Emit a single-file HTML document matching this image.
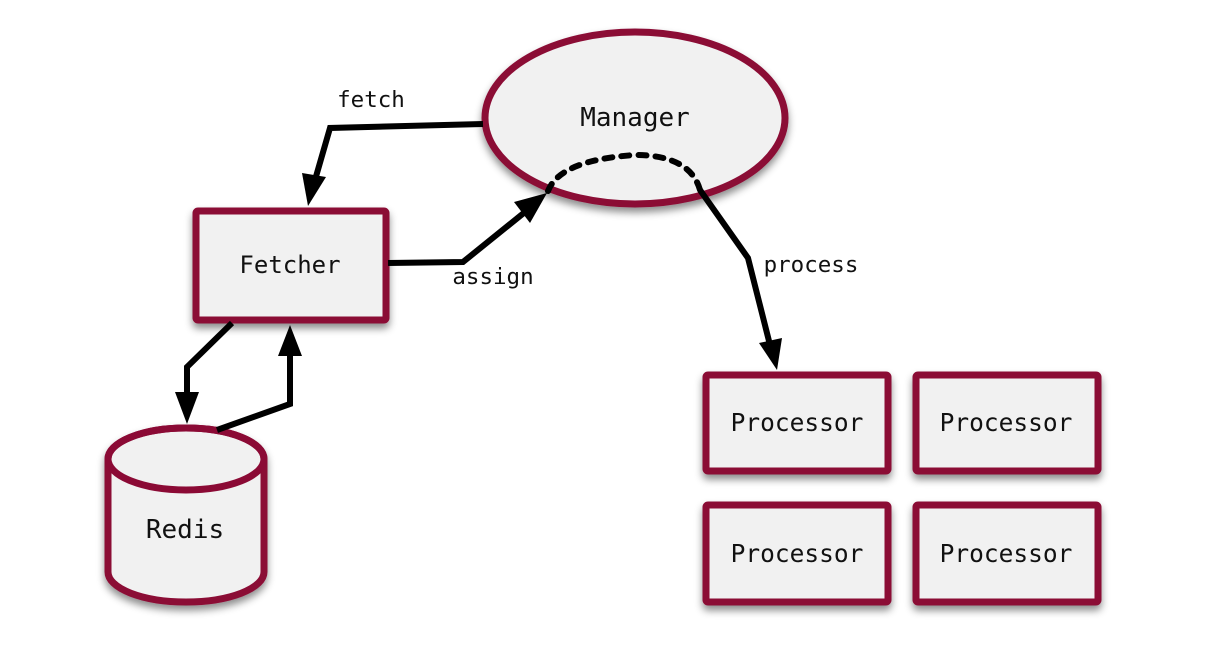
<!DOCTYPE html>
<html><head><meta charset="utf-8"><style>
html,body{margin:0;padding:0;background:#fff;}
svg{display:block}
text{font-family:"DejaVu Sans Mono","Liberation Mono",monospace;fill:#111;}
</style></head><body>
<svg width="1212" height="660" viewBox="0 0 1212 660" xmlns="http://www.w3.org/2000/svg">
<defs>
<filter id="sh" x="-20%" y="-20%" width="140%" height="150%">
<feDropShadow dx="0" dy="5" stdDeviation="4" flood-color="#000" flood-opacity="0.45"/>
</filter>
</defs>
<g fill="#f1f1f1" stroke="#8b0a35" stroke-width="7" filter="url(#sh)">
<ellipse cx="635" cy="118" rx="150" ry="86"/>
<rect x="196" y="211" width="190" height="109" rx="2"/>
<rect x="706" y="375" width="182" height="96" rx="2"/>
<rect x="916" y="375" width="182" height="96" rx="2"/>
<rect x="706" y="505" width="182" height="97" rx="2"/>
<rect x="916" y="505" width="182" height="97" rx="2"/>
<path d="M108,459 L108,572 A78,30 0 0 0 264,572 L264,459 A78,31 0 0 0 108,459 Z"/>
</g>
<ellipse cx="186" cy="459" rx="78" ry="31" fill="none" stroke="#8b0a35" stroke-width="7"/>
<path d="M548,191 Q560,160 635,155 Q690,155 700,190" fill="none" stroke="#000" stroke-width="6" stroke-dasharray="8,9" stroke-linecap="round"/>
<g fill="none" stroke="#000" stroke-width="6" stroke-linejoin="miter">
<polyline points="483,124 330,128 315,180"/>
<polyline points="388,263 463,262 525,212"/>
<polyline points="700,190 748,258 770,345"/>
<polyline points="232,323 187,367 187,395"/>
<polyline points="217,430 290,404 290,350"/>
</g>
<g fill="#000">
<polygon points="308,206 302,173 326,177"/>
<polygon points="547,193 514,202 530,223"/>
<polygon points="777,370 759,343 782,338"/>
<polygon points="187,424 175,392 199,392"/>
<polygon points="290,325 278,356 302,356"/>
</g>
<text x="635" y="126" font-size="26" text-anchor="middle">Manager</text>
<text x="290" y="273" font-size="24" text-anchor="middle">Fetcher</text>
<text x="185" y="538" font-size="26" text-anchor="middle">Redis</text>
<text x="797" y="431" font-size="24.5" text-anchor="middle">Processor</text>
<text x="1006" y="431" font-size="24.5" text-anchor="middle">Processor</text>
<text x="797" y="562" font-size="24.5" text-anchor="middle">Processor</text>
<text x="1006" y="562" font-size="24.5" text-anchor="middle">Processor</text>
<text x="371" y="107" font-size="22.5" text-anchor="middle">fetch</text>
<text x="493" y="284" font-size="22.5" text-anchor="middle">assign</text>
<text x="811" y="272" font-size="22.5" text-anchor="middle">process</text>
</svg>
</body></html>
